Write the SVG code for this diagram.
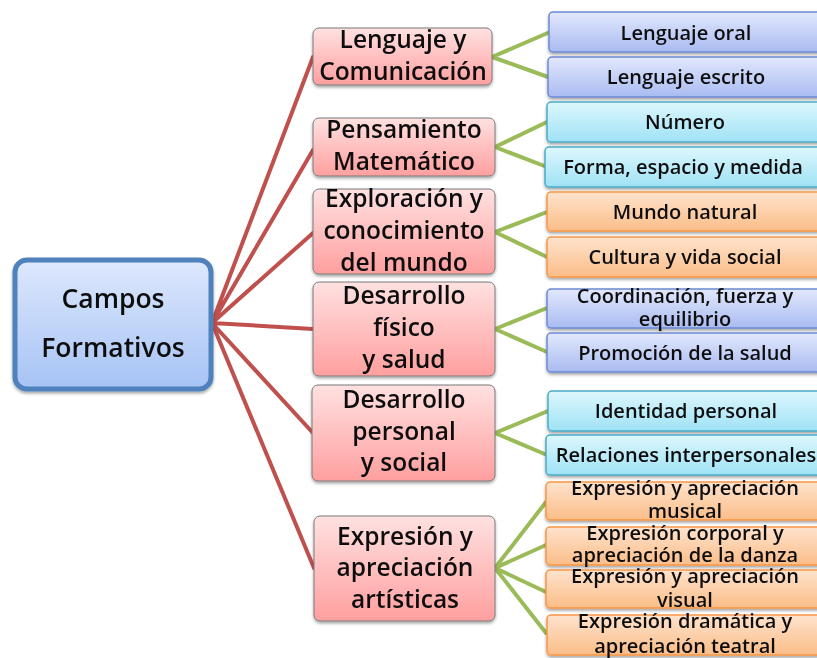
<svg xmlns="http://www.w3.org/2000/svg" width="817" height="658" viewBox="0 0 817 658">
<defs>
<linearGradient id="gRoot" x1="0" y1="0" x2="0" y2="1"><stop offset="0" stop-color="#dde8fc"/><stop offset="1" stop-color="#a6c3f5"/></linearGradient>
<linearGradient id="gPink" x1="0" y1="0" x2="0" y2="1"><stop offset="0" stop-color="#ffe1e1"/><stop offset="1" stop-color="#ff9f9f"/></linearGradient>
<linearGradient id="gBlue" x1="0" y1="0" x2="0" y2="1"><stop offset="0" stop-color="#e2e8fc"/><stop offset="1" stop-color="#a9bbf1"/></linearGradient>
<linearGradient id="gCyan" x1="0" y1="0" x2="0" y2="1"><stop offset="0" stop-color="#ddf7fd"/><stop offset="1" stop-color="#9fe2f5"/></linearGradient>
<linearGradient id="gOrange" x1="0" y1="0" x2="0" y2="1"><stop offset="0" stop-color="#fee3cd"/><stop offset="1" stop-color="#fbbd88"/></linearGradient>
<filter id="sh" x="-10%" y="-10%" width="120%" height="130%"><feDropShadow dx="0" dy="2" stdDeviation="1.5" flood-color="#000" flood-opacity="0.35"/></filter>
</defs>
<style>
text{font-family:"Open Sans","Liberation Sans",sans-serif;font-weight:600;fill:#111;text-anchor:middle}
.root{fill:url(#gRoot);stroke:#4f81bd;stroke-width:5}
.pink{fill:url(#gPink);stroke:#7a7a7a;stroke-width:1}
.blue{fill:url(#gBlue);stroke:#6c8ad4;stroke-width:1.5}
.cyan{fill:url(#gCyan);stroke:#4bacc6;stroke-width:1.5}
.orange{fill:url(#gOrange);stroke:#f79646;stroke-width:1.5}
.red{stroke:#c0504d;stroke-width:4;fill:none;stroke-linecap:round}
.green{stroke:#9bbb59;stroke-width:4;fill:none;stroke-linecap:round}
.tr{font-size:26.5px}
.tp{font-size:24.5px}
.tl{font-size:20px}
</style>
<rect width="817" height="658" fill="#fff"/>
<g id="connectors">
<path class="red" d="M212 323L313 57M212 323L313 150M212 323L313 233M212 323L313 329M212 323L313 433M212 323L314 568"/>
<path class="green" d="M492 57L550 32M492 57L548 77"/>
<path class="green" d="M495 147L547 122M495 147L547 167"/>
<path class="green" d="M495 232L547 212M495 232L547 257"/>
<path class="green" d="M495 329L547 308M495 329L547 352"/>
<path class="green" d="M495 433L548 411M495 433L547 455"/>
<path class="green" d="M495 568L546 502M495 568L546 545M495 568L546 592M495 568L546 633"/>
</g>
<g id="root" filter="url(#sh)"><rect class="root" x="15" y="260" width="196" height="129" rx="12"/><text class="tr" x="113" y="308">Campos</text><text class="tr" x="113" y="357">Formativos</text></g>
<g id="n-lenguaje" filter="url(#sh)"><rect class="pink" x="313" y="28" width="179" height="57" rx="6"/><text class="tp" x="403" y="48">Lenguaje y</text><text class="tp" x="403" y="80">Comunicación</text></g>
<g id="n-pensamiento" filter="url(#sh)"><rect class="pink" x="313" y="118" width="182" height="58" rx="6"/><text class="tp" x="404" y="138">Pensamiento</text><text class="tp" x="404" y="170">Matemático</text></g>
<g id="n-exploracion" filter="url(#sh)"><rect class="pink" x="313" y="189" width="182" height="85" rx="6"/><text class="tp" x="404" y="207">Exploración y</text><text class="tp" x="404" y="239">conocimiento</text><text class="tp" x="404" y="271">del mundo</text></g>
<g id="n-fisico" filter="url(#sh)"><rect class="pink" x="313" y="282" width="182" height="94" rx="6"/><text class="tp" x="404" y="304">Desarrollo</text><text class="tp" x="404" y="336">físico</text><text class="tp" x="404" y="368">y salud</text></g>
<g id="n-personal" filter="url(#sh)"><rect class="pink" x="312" y="385" width="183" height="96" rx="6"/><text class="tp" x="404" y="408">Desarrollo</text><text class="tp" x="404" y="440">personal</text><text class="tp" x="404" y="471">y social</text></g>
<g id="n-expresion" filter="url(#sh)"><rect class="pink" x="314" y="516" width="181" height="105" rx="6"/><text class="tp" x="405" y="545">Expresión y</text><text class="tp" x="405" y="576">apreciación</text><text class="tp" x="405" y="608">artísticas</text></g>
<g id="l-oral" filter="url(#sh)"><rect class="blue" x="549" y="12" width="275" height="40" rx="4"/><text class="tl" x="686" y="40">Lenguaje oral</text></g>
<g id="l-escrito" filter="url(#sh)"><rect class="blue" x="548" y="57" width="276" height="40" rx="4"/><text class="tl" x="686" y="84">Lenguaje escrito</text></g>
<g id="l-numero" filter="url(#sh)"><rect class="cyan" x="547" y="102" width="277" height="40" rx="4"/><text class="tl" x="685" y="129">Número</text></g>
<g id="l-forma" filter="url(#sh)"><rect class="cyan" x="545" y="147" width="279" height="40" rx="4"/><text class="tl" x="683" y="174">Forma, espacio y medida</text></g>
<g id="l-mundo" filter="url(#sh)"><rect class="orange" x="547" y="192" width="277" height="39" rx="4"/><text class="tl" x="685" y="219">Mundo natural</text></g>
<g id="l-cultura" filter="url(#sh)"><rect class="orange" x="547" y="237" width="277" height="40" rx="4"/><text class="tl" x="685" y="264">Cultura y vida social</text></g>
<g id="l-coordinacion" filter="url(#sh)"><rect class="blue" x="547" y="289" width="277" height="39" rx="4"/><text class="tl" x="685" y="303">Coordinación, fuerza y</text><text class="tl" x="685" y="326">equilibrio</text></g>
<g id="l-promocion" filter="url(#sh)"><rect class="blue" x="547" y="333" width="277" height="39" rx="4"/><text class="tl" x="685" y="360">Promoción de la salud</text></g>
<g id="l-identidad" filter="url(#sh)"><rect class="cyan" x="548" y="391" width="276" height="40" rx="4"/><text class="tl" x="686" y="418">Identidad personal</text></g>
<g id="l-relaciones" filter="url(#sh)"><rect class="cyan" x="546" y="435" width="278" height="40" rx="4"/><text class="tl" x="686" y="462">Relaciones interpersonales</text></g>
<g id="l-musical" filter="url(#sh)"><rect class="orange" x="546" y="482" width="278" height="38" rx="4"/><text class="tl" x="685" y="495">Expresión y apreciación</text><text class="tl" x="685" y="518">musical</text></g>
<g id="l-danza" filter="url(#sh)"><rect class="orange" x="546" y="527" width="278" height="38" rx="4"/><text class="tl" x="685" y="540">Expresión corporal y</text><text class="tl" x="685" y="562">apreciación de la danza</text></g>
<g id="l-visual" filter="url(#sh)"><rect class="orange" x="546" y="570" width="278" height="38" rx="4"/><text class="tl" x="685" y="583">Expresión y apreciación</text><text class="tl" x="685" y="607">visual</text></g>
<g id="l-teatral" filter="url(#sh)"><rect class="orange" x="547" y="615" width="277" height="40" rx="4"/><text class="tl" x="685" y="628">Expresión dramática y</text><text class="tl" x="685" y="653">apreciación teatral</text></g>
</svg>
